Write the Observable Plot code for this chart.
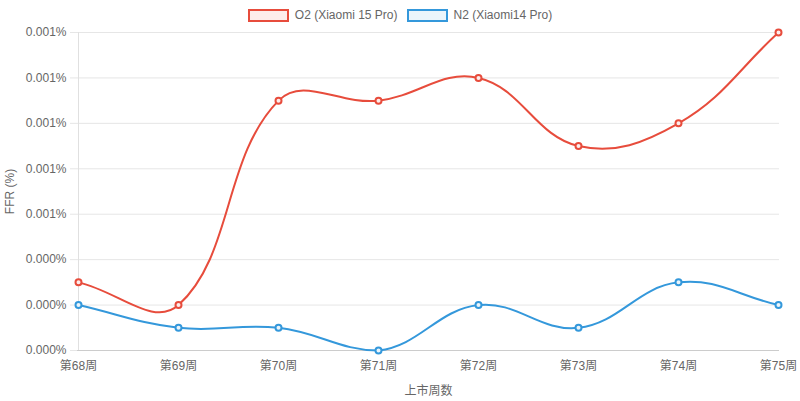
<!DOCTYPE html>
<html>
<head>
<meta charset="utf-8">
<script src="https://cdn.jsdelivr.net/npm/d3@7"></script>
<script src="https://cdn.jsdelivr.net/npm/@observablehq/plot@0.6"></script>
<style>
  html, body { margin: 0; padding: 0; background: #fff; }
  body { width: 800px; height: 401px; overflow: hidden; font-family: "Liberation Sans", Arial, "Noto Sans CJK SC", sans-serif; }
  #legend { height: 22px; display: flex; justify-content: center; align-items: flex-end; font-size: 12px; color: #666; gap: 9px; box-sizing: border-box; }
  .item { display: flex; align-items: center; gap: 6px; height: 14px; }
  .box { width: 37px; height: 9px; border-width: 2px; border-style: solid; }
  svg { display: block; font-family: "Liberation Sans", Arial, "Noto Sans CJK SC", sans-serif; }
</style>
</head>
<body>
<div id="legend"></div>
<div id="chart"></div>
<script>
const weeks = ["第68周", "第69周", "第70周", "第71周", "第72周", "第73周", "第74周", "第75周"];
const o2Values = [0.0003, 0.0002, 0.0011, 0.0011, 0.0012, 0.0009, 0.0010, 0.0014];
const n2Values = [0.0002, 0.0001, 0.0001, 0.0000, 0.0002, 0.0001, 0.0003, 0.0002];
const seriesNames = ["O2 (Xiaomi 15 Pro)", "N2 (Xiaomi14 Pro)"];
const seriesColors = ["#e74c3c", "#3498db"];
const seriesFills = ["#fdedec", "#ebf5fb"];
const yTicks = [0, 0.0002, 0.0004, 0.0006, 0.0008, 0.0010, 0.0012, 0.0014];
const xTitle = "上市周数";
const yTitle = "FFR (%)";

const data = [];
[o2Values, n2Values].forEach((vals, s) => {
  vals.forEach((v, i) => data.push({series: seriesNames[s], week: weeks[i], value: v}));
});

const W = 800, H = 379;
const mL = 77, mR = 21, mT = 10, mB = 51;
const areaTop = mT, areaBottom = H - mB, areaLeft = mL, areaRight = W - mR;

// Chart.js-like spline (tension 0.4, capped to chart area)
function chartSpline(context) {
  let pts = [];
  const t = 0.4;
  const cap = (v, lo, hi) => Math.max(lo, Math.min(hi, v));
  return {
    areaStart() {}, areaEnd() {},
    lineStart() { pts = []; },
    point(x, y) { pts.push([+x, +y]); },
    lineEnd() {
      const n = pts.length;
      if (!n) return;
      const cps = pts.map((cur, i) => {
        const prev = pts[i - 1] || cur, next = pts[i + 1] || cur;
        const d01 = Math.hypot(cur[0] - prev[0], cur[1] - prev[1]);
        const d12 = Math.hypot(next[0] - cur[0], next[1] - cur[1]);
        let s01 = d01 / (d01 + d12), s12 = d12 / (d01 + d12);
        if (!isFinite(s01)) s01 = 0;
        if (!isFinite(s12)) s12 = 0;
        const fa = t * s01, fb = t * s12;
        const cp = {
          px: cur[0] - fa * (next[0] - prev[0]), py: cur[1] - fa * (next[1] - prev[1]),
          nx: cur[0] + fb * (next[0] - prev[0]), ny: cur[1] + fb * (next[1] - prev[1])
        };
        cp.px = cap(cp.px, areaLeft, areaRight); cp.nx = cap(cp.nx, areaLeft, areaRight);
        cp.py = cap(cp.py, areaTop, areaBottom); cp.ny = cap(cp.ny, areaTop, areaBottom);
        return cp;
      });
      context.moveTo(pts[0][0], pts[0][1]);
      for (let i = 1; i < n; i++) {
        context.bezierCurveTo(cps[i - 1].nx, cps[i - 1].ny, cps[i].px, cps[i].py, pts[i][0], pts[i][1]);
      }
    }
  };
}

const legend = document.getElementById("legend");
seriesNames.forEach((name, i) => {
  const it = document.createElement("div");
  it.className = "item";
  const b = document.createElement("span");
  b.className = "box";
  b.style.borderColor = seriesColors[i];
  b.style.background = seriesFills[i];
  const tx = document.createElement("span");
  tx.textContent = name;
  it.appendChild(b); it.appendChild(tx);
  legend.appendChild(it);
});

const chart = Plot.plot({
  width: W, height: H,
  marginLeft: mL, marginRight: mR, marginTop: mT, marginBottom: mB,
  style: {fontSize: "12px", color: "#666", background: "#fff"},
  x: {type: "point", domain: weeks, padding: 0},
  y: {domain: [0, 0.0014]},
  color: {domain: seriesNames, range: seriesColors},
  marks: [
    Plot.ruleY(yTicks, {stroke: "#e6e6e6", strokeOpacity: 1}),
    Plot.ruleX([weeks[0]], {y1: 0, y2: 0.0014, stroke: "#e0e0e0", strokeOpacity: 1}),
    Plot.ruleY([0], {stroke: "#cccccc", strokeOpacity: 1}),
    Plot.axisY({ticks: yTicks, tickFormat: d => d.toFixed(3) + "%", tickSize: 7, tickPadding: 4,
      stroke: "#e6e6e6", fill: "#666", label: yTitle, labelAnchor: "center", labelArrow: "none", labelOffset: 72}),
    Plot.axisX({tickSize: 0, tickPadding: 11, fill: "#666", label: xTitle, labelAnchor: "center", labelArrow: "none", labelOffset: 44}),
    Plot.line(data, {x: "week", y: "value", z: "series", stroke: "series", strokeWidth: 2, curve: chartSpline}),
    Plot.dot(data, {x: "week", y: "value", stroke: "series", fill: d => seriesFills[seriesNames.indexOf(d.series)], r: 3, strokeWidth: 2})
  ]
});
document.getElementById("chart").appendChild(chart);
</script>
</body>
</html>
